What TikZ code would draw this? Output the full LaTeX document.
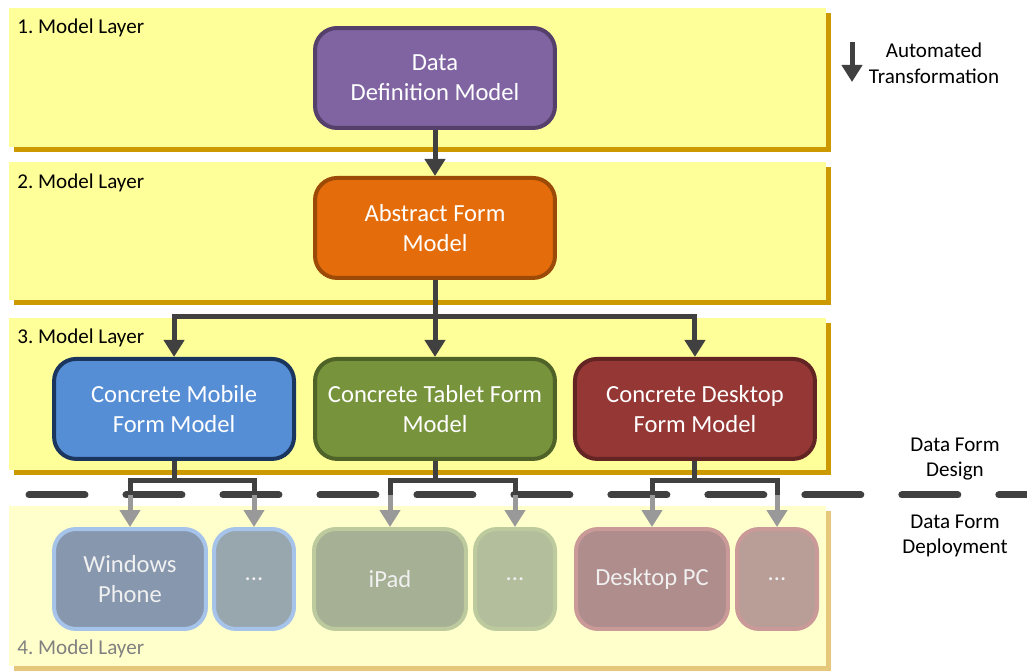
\documentclass[tikz,border=0pt]{standalone}
\usepackage{fontspec}
\setmainfont{Carlito}
\frenchspacing
\usetikzlibrary{arrows.meta,positioning,shadows}
\tikzset{every picture/.style={/utils/exec={\fontsize{12}{14.6}\selectfont}}}

\definecolor{layeryellow}{HTML}{FFFF99}
\definecolor{layergold}{HTML}{CC9900}
\definecolor{fadedyellow}{HTML}{FFFFCC}
\definecolor{fadedgold}{HTML}{E6C87A}
\definecolor{linegray}{HTML}{404040}
\definecolor{fadedline}{HTML}{999999}
\definecolor{purplefill}{HTML}{8064A2}
\definecolor{purpleline}{HTML}{54406B}
\definecolor{orangefill}{HTML}{E46C0A}
\definecolor{orangeline}{HTML}{9C4A08}
\definecolor{bluefill}{HTML}{558ED5}
\definecolor{blueline}{HTML}{1B365E}
\definecolor{greenfill}{HTML}{77933C}
\definecolor{greenline}{HTML}{4F6228}
\definecolor{redfill}{HTML}{953735}
\definecolor{redline}{HTML}{632523}
\definecolor{phonefill}{HTML}{8797AE}
\definecolor{phonedots}{HTML}{98A6AE}
\definecolor{phoneline}{HTML}{A6C3EA}
\definecolor{padfill}{HTML}{A6B094}
\definecolor{paddots}{HTML}{B3BE9D}
\definecolor{padline}{HTML}{BCCA9E}
\definecolor{pcfill}{HTML}{AE8D8C}
\definecolor{pcdots}{HTML}{B99E98}
\definecolor{pcline}{HTML}{C99A98}

\begin{document}
\begin{tikzpicture}[x=0.02cm, y=-0.02cm, node distance=1cm]
  \tikzstyle{layer} = [anchor=north west, inner sep=0pt, outer sep=0pt, minimum width=16.34cm,
    fill=layeryellow, general shadow={fill=layergold, shadow xshift=0.1cm, shadow yshift=-0.1cm}]
  \tikzstyle{layerlabel} = [anchor=west, inner sep=0pt]
  \tikzstyle{model} = [rectangle, rounded corners=0.44cm, line width=0.08cm, minimum width=4.8cm,
    minimum height=2cm, text=white, align=center, font=\fontsize{14}{17}\selectfont]
  \tikzstyle{device} = [model, minimum width=3.04cm, text=white!94!black]
  \tikzstyle{devicedots} = [device, minimum width=1.6cm]
  \tikzstyle{note} = [align=center, inner sep=0pt]

  \tikzstyle{arrow} = [draw=linegray, line width=0.1cm, -{Triangle[width=0.4cm,length=0.34cm]}]
  \tikzstyle{plainline} = [draw=linegray, line width=0.1cm]
  \tikzstyle{fadedarrow} = [draw=fadedline, line width=0.1cm, -{Triangle[width=0.4cm,length=0.34cm]}]

  \useasboundingbox (0,0) rectangle (1027,671);

  % model layers in the back
  \node (layer1) [layer, minimum height=2.78cm] at (9,8) {};
  \node (layer2) [layer, minimum height=2.76cm] at (9,162) {};
  \node (layer3) [layer, minimum height=3.04cm] at (9,318) {};
  \node (layer4) [layer, minimum height=3.2cm, fill=fadedyellow,
    general shadow={fill=fadedgold, shadow xshift=0.1cm, shadow yshift=-0.1cm}] at (9,506) {};

  \node (label1) [layerlabel] at (17,28) {1. Model Layer};
  \node (label2) [layerlabel] at (17,183) {2. Model Layer};
  \node (label3) [layerlabel] at (17,338) {3. Model Layer};
  \node (label4) [layerlabel, text=black!50] at (17,649) {4. Model Layer};

  \node (ddm) [model, fill=purplefill, draw=purpleline] at (435,78) {Data\\Definition Model};
  \node (afm) [model, fill=orangefill, draw=orangeline, below=0.92cm of ddm] {Abstract Form\\Model};
  \node (tablet) [model, fill=greenfill, draw=greenline, below=1.54cm of afm] {Concrete Tablet Form\\Model};
  \node (mobile) [model, fill=bluefill, draw=blueline, left=0.34cm of tablet] {Concrete Mobile\\Form Model};
  \node (desktop) [model, fill=redfill, draw=redline, right=0.32cm of tablet] {Concrete Desktop\\Form Model};

  \node (phone) [device, fill=phonefill, draw=phoneline] at (130,579) {Windows\\Phone};
  \node (phonemore) [devicedots, fill=phonedots, draw=phoneline] at (254,579) {{.}{.}{.}};
  \node (ipad) [device, fill=padfill, draw=padline] at (390,579) {iPad};
  \node (ipadmore) [devicedots, fill=paddots, draw=padline] at (515,579) {{.}{.}{.}};
  \node (pc) [device, fill=pcfill, draw=pcline] at (652,579) {Desktop PC};
  \node (pcmore) [devicedots, fill=pcdots, draw=pcline] at (777,579) {{.}{.}{.}};

  \node (autolabel) [note] at (934,63) {Automated\\Transformation};
  \node (designlabel) [note] at (955,459) {Data Form\\Design};
  \node (deploylabel) [note] at (955,536) {Data Form\\Deployment};

  % design / deployment border
  \coordinate (borderstart) at (29,495);
  \coordinate (borderend) at (1027,495);
  \draw [linegray, line width=0.14cm, line cap=round, dash pattern=on 1.12cm off 0.82cm]
    (borderstart) -- (borderend);

  \coordinate (autotop) at (852,42);
  \coordinate (autobottom) at (852,82);
  \draw [arrow] (autotop) -- (autobottom);

  \draw [arrow] (ddm) -- (afm);
  \coordinate (split) at (435,317);
  \draw [arrow] (afm) -- (tablet);
  \draw [arrow] (split) -| (mobile);
  \draw [arrow] (split) -| (desktop);

  % dark above the border, faded below
  \coordinate (phonecut) at (phone.north |- borderstart);
  \coordinate (phonemorecut) at (phonemore.north |- borderstart);
  \coordinate (ipadcut) at (ipad.north |- borderstart);
  \coordinate (ipadmorecut) at (ipadmore.north |- borderstart);
  \coordinate (pccut) at (pc.north |- borderstart);
  \coordinate (pcmorecut) at (pcmore.north |- borderstart);

  \draw [plainline] (mobile.south) -- ++(0,20) -| (phonecut);
  \draw [plainline] (mobile.south) -- ++(0,20) -| (phonemorecut);
  \draw [plainline] (tablet.south) -- ++(0,20) -| (ipadcut);
  \draw [plainline] (tablet.south) -- ++(0,20) -| (ipadmorecut);
  \draw [plainline] (desktop.south) -- ++(0,20) -| (pccut);
  \draw [plainline] (desktop.south) -- ++(0,20) -| (pcmorecut);

  \draw [fadedarrow] (phonecut) -- (phone);
  \draw [fadedarrow] (phonemorecut) -- (phonemore);
  \draw [fadedarrow] (ipadcut) -- (ipad);
  \draw [fadedarrow] (ipadmorecut) -- (ipadmore);
  \draw [fadedarrow] (pccut) -- (pc);
  \draw [fadedarrow] (pcmorecut) -- (pcmore);
\end{tikzpicture}
\end{document}
